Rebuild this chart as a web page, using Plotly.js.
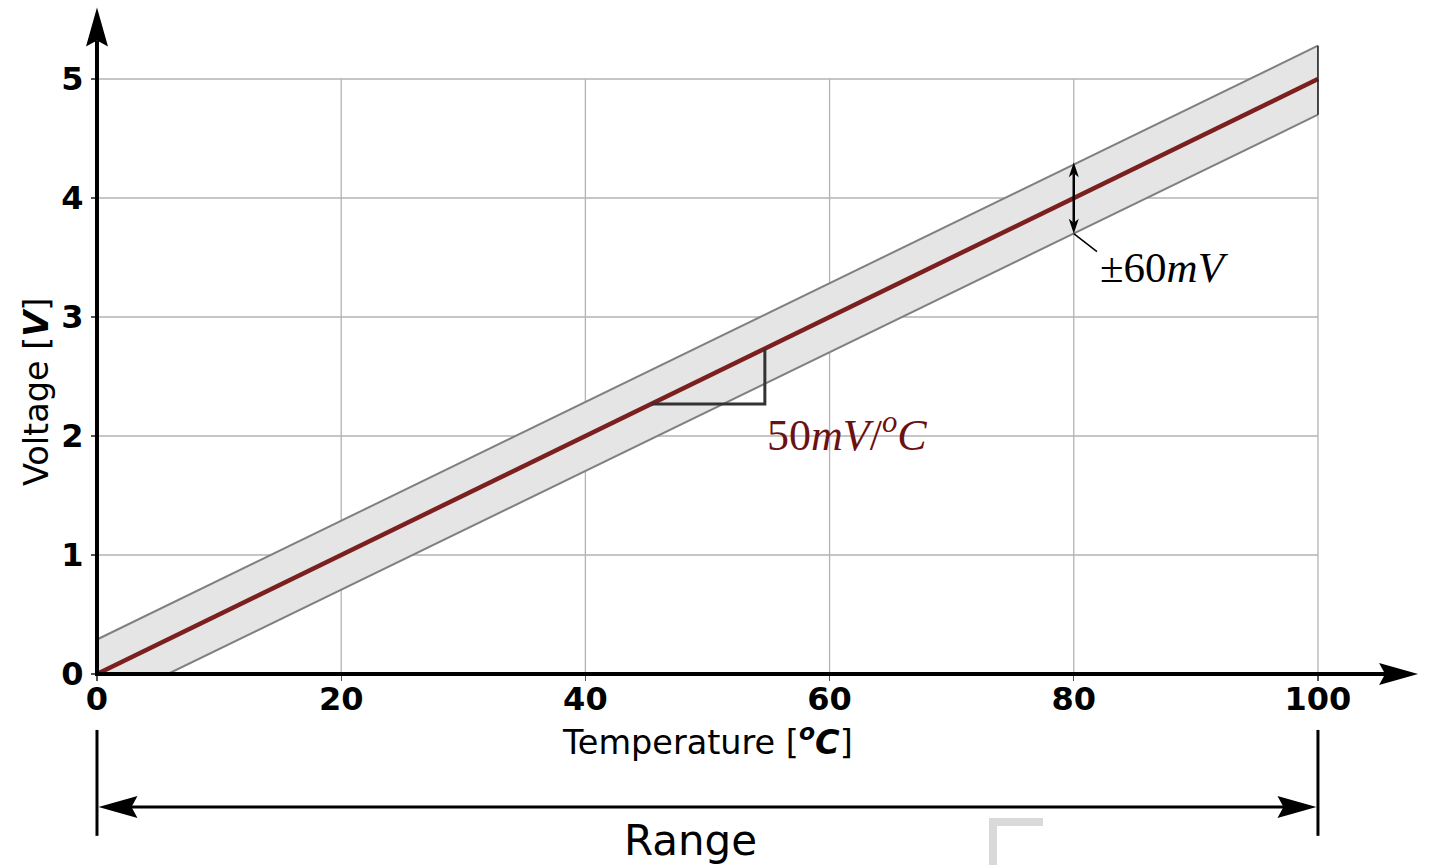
<!DOCTYPE html>
<html><head><meta charset="utf-8">
<script src="https://cdn.plot.ly/plotly-3.0.1.min.js"></script>
<style>html,body{margin:0;padding:0;background:#fff}#chart{width:1432px;height:865px}</style>
</head><body><div id="chart"></div><script>
// ---- data ----
const temperature = [0, 100];          // °C
const voltage = [0, 5];                // V  (50 mV/°C)
const bandUpperX = [0, 100];
const bandUpperY = [0.29, 5.28];
const bandLowerX = [0, 5.8, 100];      // lower edge clipped at 0 V
const bandLowerY = [0, 0, 4.7];
const xTicks = [0, 20, 40, 60, 80, 100];
const yTicks = [0, 1, 2, 3, 4, 5];
const slopeX = [45.4, 54.7, 54.7];
const slopeY = [2.27, 2.27, 2.735];
const tolX = 80;
const tolY = [3.7, 4.3];
const tolLabelAt = [81.9, 3.55];
const rangeSpan = [0, 100];
const axisTip = {x: 108.2, y: 5.6};

// ---- view ----
const W = 1432, H = 865;
const xRange = [-7.944, 109.34];
const yRange = [-1.605, 5.664];
const pxX = W / (xRange[1] - xRange[0]);
const pxY = H / (yRange[1] - yRange[0]);

function head(x, y, dir, L, HW, N) {
  let pts;
  if (dir === 'right') pts = [[0,0],[-L,HW],[-L+N,0],[-L,-HW]];
  if (dir === 'left')  pts = [[0,0],[L,HW],[L-N,0],[L,-HW]];
  if (dir === 'up')    pts = [[0,0],[HW,-L],[0,-L+N],[-HW,-L]];
  if (dir === 'down')  pts = [[0,0],[HW,L],[0,L-N],[-HW,L]];
  return 'M' + pts.map(p => (x + p[0]/pxX) + ',' + (y + p[1]/pxY)).join('L') + 'Z';
}
const BIG = [39, 11, 6], SMALL = [15, 5, 4];

const shapes = [];
const gridStyle = {color: '#b3b3b3', width: 1.3};
const xMax = xTicks[xTicks.length-1], yMax = yTicks[yTicks.length-1];
xTicks.filter(v => v > 0).forEach(v => shapes.push({type:'line', xref:'x', yref:'y', x0:v, x1:v, y0:0, y1:yMax, line:gridStyle, layer:'below'}));
yTicks.filter(v => v > 0).forEach(v => shapes.push({type:'line', xref:'x', yref:'y', x0:0, x1:xMax, y0:v, y1:v, line:gridStyle, layer:'below'}));

// closing edge of band at the right end
shapes.push({type:'line', xref:'x', yref:'y', x0:bandLowerX[bandLowerX.length-1], x1:bandUpperX[bandUpperX.length-1],
  y0:bandLowerY[bandLowerY.length-1], y1:bandUpperY[bandUpperY.length-1], line:{color:'#222', width:1.6}, layer:'above'});

// axes with arrows
shapes.push({type:'line', xref:'x', yref:'y', x0:-2/pxX, x1:axisTip.x - (BIG[0]-BIG[2])/pxX, y0:0, y1:0, line:{color:'#000', width:4}, layer:'above'});
shapes.push({type:'line', xref:'x', yref:'y', x0:0, x1:0, y0:-2/pxY, y1:axisTip.y - (BIG[0]-BIG[2])/pxY, line:{color:'#000', width:4}, layer:'above'});
shapes.push({type:'path', xref:'x', yref:'y', path: head(axisTip.x, 0, 'right', ...BIG), fillcolor:'#000', line:{width:0}, layer:'above'});
shapes.push({type:'path', xref:'x', yref:'y', path: head(0, axisTip.y, 'up', ...BIG), fillcolor:'#000', line:{width:0}, layer:'above'});

// slope triangle
shapes.push({type:'path', xref:'x', yref:'y',
  path: 'M' + slopeX.map((v,i) => v + ',' + slopeY[i]).join('L'), line:{color:'#333', width:3}, layer:'above'});

// tolerance double arrow
shapes.push({type:'line', xref:'x', yref:'y', x0:tolX, x1:tolX, y0:tolY[0] + (SMALL[0]-SMALL[2])/pxY, y1:tolY[1] - (SMALL[0]-SMALL[2])/pxY, line:{color:'#000', width:2.5}, layer:'above'});
shapes.push({type:'path', xref:'x', yref:'y', path: head(tolX, tolY[1], 'up', ...SMALL), fillcolor:'#000', line:{width:0}, layer:'above'});
shapes.push({type:'path', xref:'x', yref:'y', path: head(tolX, tolY[0], 'down', ...SMALL), fillcolor:'#000', line:{width:0}, layer:'above'});
// leader line for tolerance label
shapes.push({type:'line', xref:'x', yref:'y', x0:tolX, y0:tolY[0], x1:tolLabelAt[0], y1:tolLabelAt[1], line:{color:'#000', width:1.5}, layer:'above'});

// Range dimension
const dimY = -1.118;
rangeSpan.forEach(v => shapes.push({type:'line', xref:'x', yref:'y', x0:v, x1:v, y0:-0.47, y1:-1.36, line:{color:'#000', width:3}}));
shapes.push({type:'line', xref:'x', yref:'y', x0:rangeSpan[0] + (BIG[0]-BIG[2])/pxX, x1:rangeSpan[1] - (BIG[0]-BIG[2])/pxX, y0:dimY, y1:dimY, line:{color:'#000', width:3}});
shapes.push({type:'path', xref:'x', yref:'y', path: head(rangeSpan[0] + 1.5/pxX, dimY, 'left', ...BIG), fillcolor:'#000', line:{width:0}});
shapes.push({type:'path', xref:'x', yref:'y', path: head(rangeSpan[1] - 1.5/pxX, dimY, 'right', ...BIG), fillcolor:'#000', line:{width:0}});

// faint corner mark at the bottom
shapes.push({type:'path', xref:'x', yref:'y', path:'M73.38,-1.75L73.38,-1.244L77.48,-1.244', line:{color:'#d9d9d9', width:8}});

const traces = [
  {x: bandLowerX, y: bandLowerY, mode:'lines', line:{color:'#808080', width:2}, hoverinfo:'skip', showlegend:false},
  {x: bandUpperX, y: bandUpperY, mode:'lines', fill:'tonexty', fillcolor:'#e5e5e5', line:{color:'#808080', width:2}, hoverinfo:'skip', showlegend:false},
  {x: temperature, y: voltage, mode:'lines', line:{color:'#7b1f1f', width:4.5}, showlegend:false}
];

const tickFont = {family:'DejaVu Sans, sans-serif', size:32, weight:'bold', color:'#000'};
const annotations = [
  {x:50, y:-0.555, xref:'x', yref:'y', showarrow:false, text:'Temperature [<b><i><sup>o</sup>C</i></b>]',
   font:{family:'DejaVu Sans, sans-serif', size:33.5, color:'#000'}},
  {x:-4.91, y:2.37, xref:'x', yref:'y', showarrow:false, textangle:-90, text:'Voltage [<b><i>V</i></b>]',
   font:{family:'DejaVu Sans, sans-serif', size:33.5, color:'#000'}},
  {x:48.6, y:-1.40, xref:'x', yref:'y', showarrow:false, text:'Range',
   font:{family:'DejaVu Sans, sans-serif', size:42, color:'#000'}},
  {x:tolLabelAt[0] + 0.05, y:3.42, xref:'x', yref:'y', xanchor:'left', showarrow:false, text:'±60<i>mV</i>',
   font:{family:'Liberation Serif, DejaVu Serif, serif', size:43, color:'#000'}},
  {x:slopeX[1], y:2.03, xref:'x', yref:'y', xanchor:'left', showarrow:false, text:'50<i>mV</i>/<i><sup>o</sup>C</i>',
   font:{family:'Liberation Serif, DejaVu Serif, serif', size:44, color:'#6b1111'}}
];

const layout = {
  width: W, height: H,
  margin: {l:0, r:0, t:0, b:0, pad:0},
  paper_bgcolor:'#fff', plot_bgcolor:'#fff',
  showlegend:false,
  xaxis: {range:xRange, anchor:'free', position:(0 - yRange[0])/(yRange[1]-yRange[0]),
    showgrid:false, zeroline:false, showline:false, tickmode:'array', tickvals:xTicks, ticktext:xTicks.map(String),
    ticks:'outside', ticklen:6, tickwidth:1.2, tickcolor:'#555', tickfont:tickFont, ticklabelstandoff:-9, fixedrange:true},
  yaxis: {range:yRange, anchor:'free', position:(0 - xRange[0])/(xRange[1]-xRange[0]),
    showgrid:false, zeroline:false, showline:false, tickmode:'array', tickvals:yTicks, ticktext:yTicks.map(String),
    ticks:'outside', ticklen:6, tickwidth:1.2, tickcolor:'#555', tickfont:tickFont, ticklabelstandoff:1, fixedrange:true},
  shapes: shapes,
  annotations: annotations
};

Plotly.newPlot('chart', traces, layout, {displayModeBar:false, staticPlot:true});
</script></body></html>
